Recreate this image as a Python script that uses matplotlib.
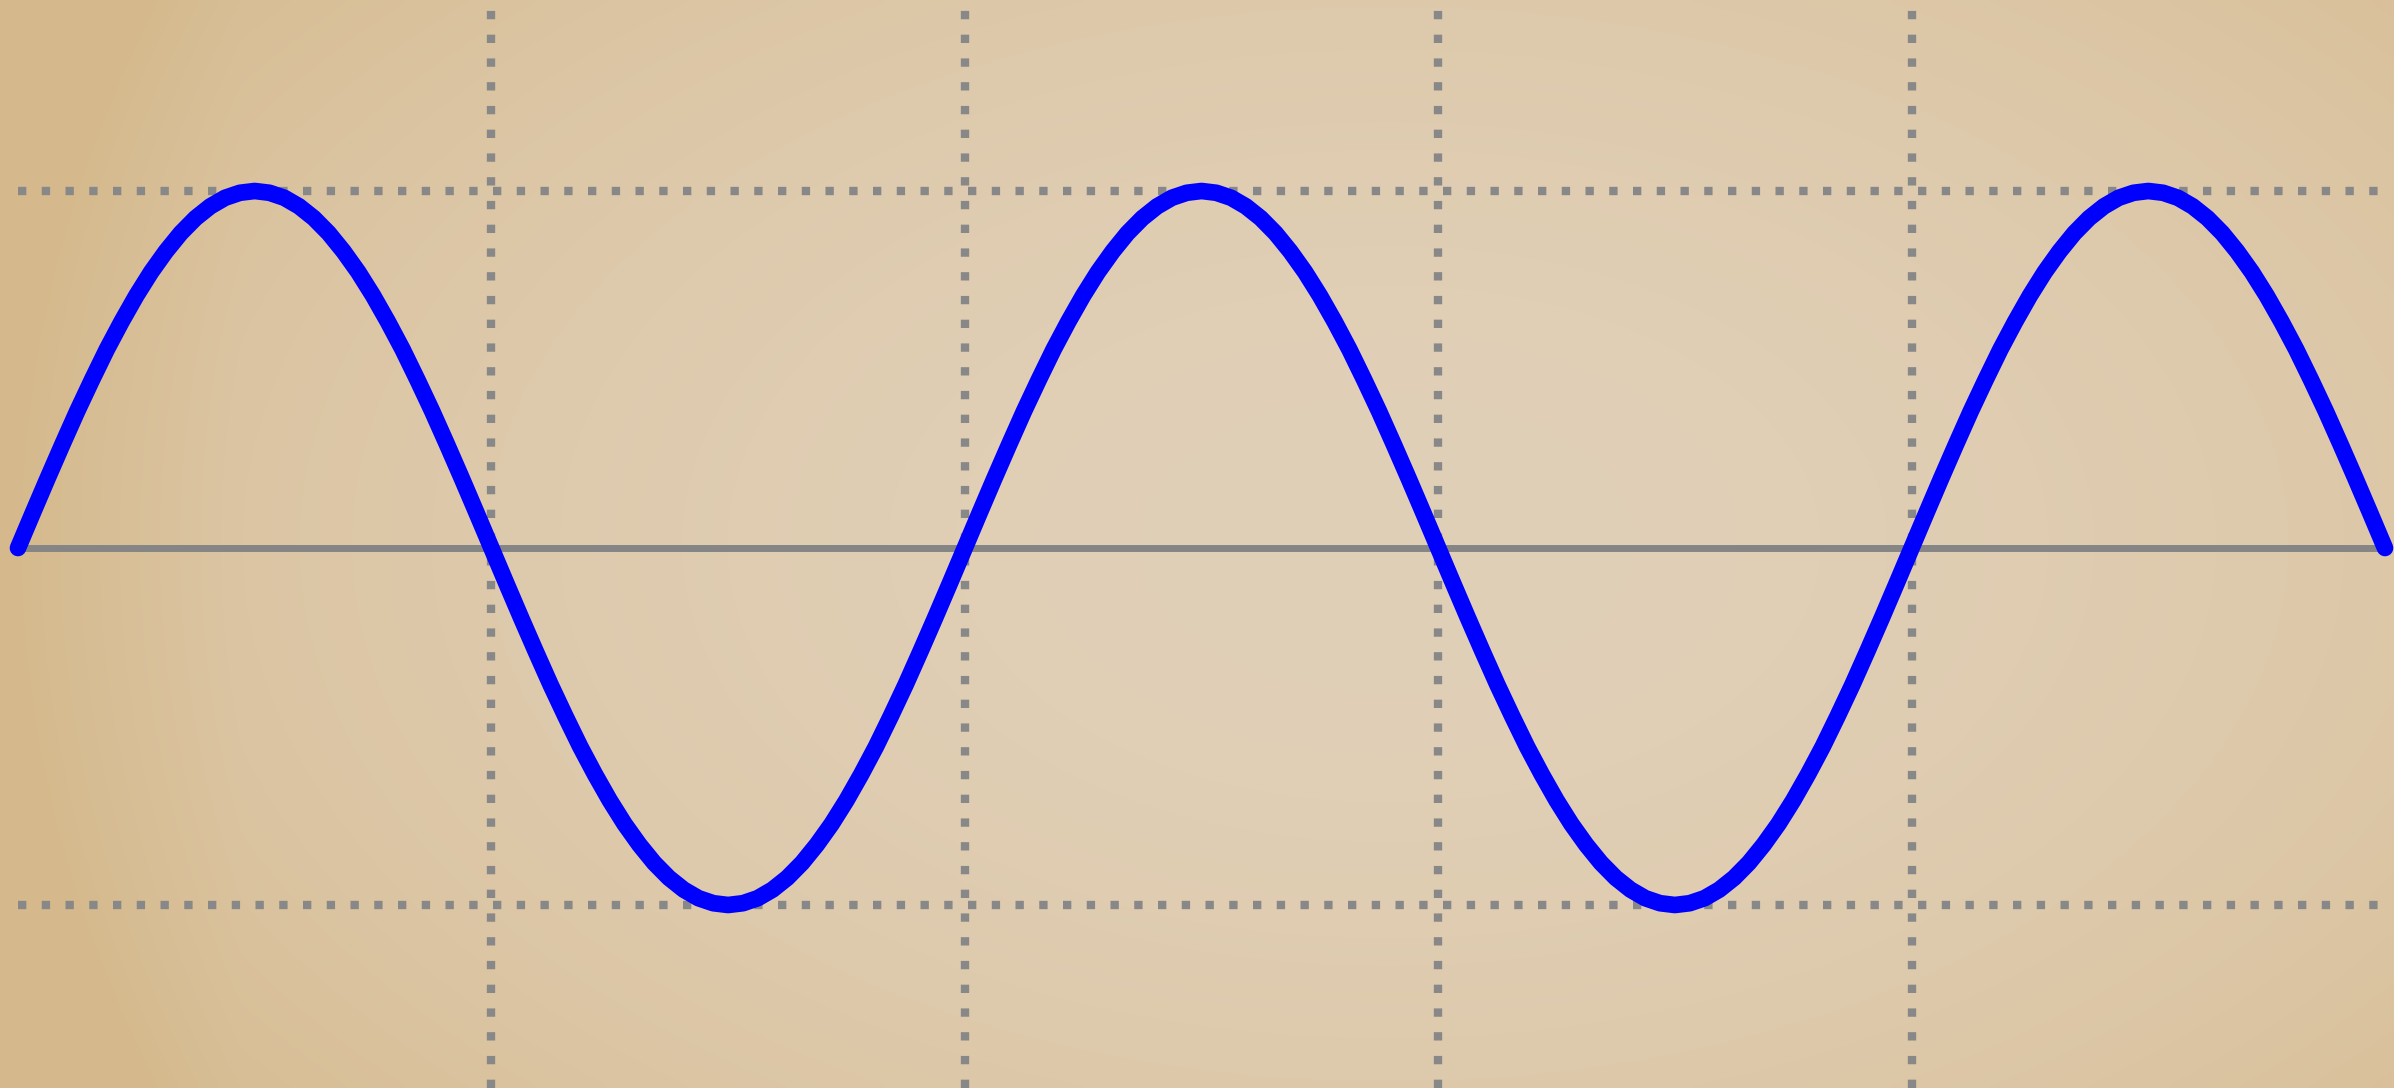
# -*- coding: utf-8 -*-
"""Sine wave on parchment: 2.5 periods, dotted grid at the zero crossings and at +/-1."""
import numpy as np
import matplotlib
matplotlib.use("Agg")
import matplotlib.pyplot as plt

# values, one every 5.625 degrees (0 .. 900), one half-period per row
wave = [
    0.000, 0.098, 0.195, 0.290, 0.383, 0.471, 0.556, 0.634, 0.707, 0.773, 0.831, 0.882, 0.924, 0.957, 0.981, 0.995,
    1.000, 0.995, 0.981, 0.957, 0.924, 0.882, 0.831, 0.773, 0.707, 0.634, 0.556, 0.471, 0.383, 0.290, 0.195, 0.098,
    0.000, -0.098, -0.195, -0.290, -0.383, -0.471, -0.556, -0.634, -0.707, -0.773, -0.831, -0.882, -0.924, -0.957, -0.981, -0.995,
    -1.000, -0.995, -0.981, -0.957, -0.924, -0.882, -0.831, -0.773, -0.707, -0.634, -0.556, -0.471, -0.383, -0.290, -0.195, -0.098,
    0.000, 0.098, 0.195, 0.290, 0.383, 0.471, 0.556, 0.634, 0.707, 0.773, 0.831, 0.882, 0.924, 0.957, 0.981, 0.995,
    1.000, 0.995, 0.981, 0.957, 0.924, 0.882, 0.831, 0.773, 0.707, 0.634, 0.556, 0.471, 0.383, 0.290, 0.195, 0.098,
    0.000, -0.098, -0.195, -0.290, -0.383, -0.471, -0.556, -0.634, -0.707, -0.773, -0.831, -0.882, -0.924, -0.957, -0.981, -0.995,
    -1.000, -0.995, -0.981, -0.957, -0.924, -0.882, -0.831, -0.773, -0.707, -0.634, -0.556, -0.471, -0.383, -0.290, -0.195, -0.098,
    0.000, 0.098, 0.195, 0.290, 0.383, 0.471, 0.556, 0.634, 0.707, 0.773, 0.831, 0.882, 0.924, 0.957, 0.981, 0.995,
    1.000, 0.995, 0.981, 0.957, 0.924, 0.882, 0.831, 0.773, 0.707, 0.634, 0.556, 0.471, 0.383, 0.290, 0.195, 0.098,
    0.000,
]
angle = np.arange(len(wave)) * 5.625          # degrees
x_grid = [180, 360, 540, 720]
y_grid = [-1, 1]

W, H, DPI = 2394, 1088, 100
fig = plt.figure(figsize=(W / DPI, H / DPI), dpi=DPI)

# parchment background: warm vignette, darker / yellower towards the left edge
gx, gy = np.meshgrid(np.linspace(0, 1, 480), np.linspace(0, 1, 220))
w = np.clip(((gx - 0.58) / 0.58) ** 2 * 0.7 + ((gy - 0.5) / 0.5) ** 2 * 0.3, 0, 1)
w = np.clip(w + np.clip(0.1 - gx, 0, None) * 3, 0, 1)[..., None]
centre = np.array([225, 208, 184]) / 255
edge = np.array([213, 185, 140]) / 255
bg = fig.add_axes([0, 0, 1, 1])
bg.imshow(centre * (1 - w) + edge * w, aspect="auto", extent=[0, 1, 0, 1], interpolation="bicubic")
bg.axis("off")

x0, x1 = 18, 2385          # pixel span of the curve
y0 = 548; amp = 357         # zero line and amplitude in pixels (from top)
ax = fig.add_axes([x0 / W, 0, (x1 - x0) / W, 1])
ax.patch.set_alpha(0)
ax.set_xlim(0, 900)
ax.set_ylim(-(H - y0) / amp, y0 / amp)
ax.axis("off")

dot = dict(color="#888888", lw=6.0, ls=(0, (1, 1.85)), dash_capstyle="butt", zorder=1)
for xv in x_grid:
    ax.axvline(xv, **dot)
for yv in y_grid:
    ax.axhline(yv, **dot)
ax.axhline(0, color="#858585", lw=5.0, zorder=2)

ax.plot(angle, wave, color="#0000ff", lw=12.0, solid_capstyle="round",
        solid_joinstyle="round", clip_on=False, zorder=5)

fig.savefig("out.png", dpi=DPI)
